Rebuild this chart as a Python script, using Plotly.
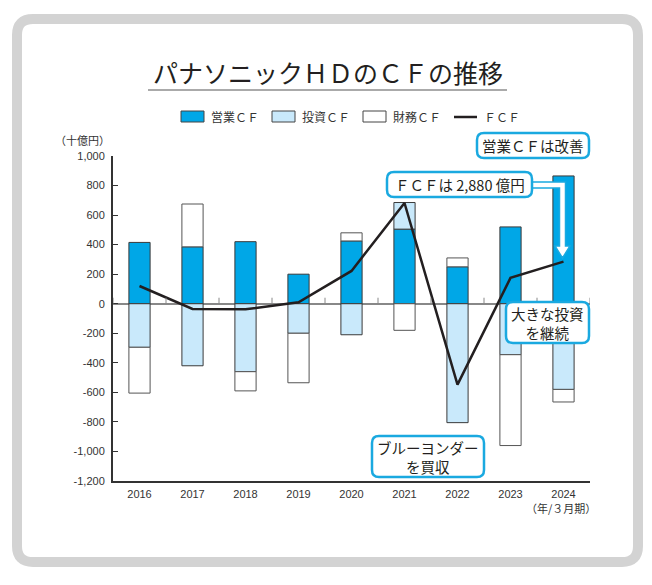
import plotly.graph_objects as go

years = ['2016', '2017', '2018', '2019', '2020', '2021', '2022', '2023', '2024']
op_cf = [415, 385, 420, 200, 425, 505, 250, 520, 865]       # 営業CF
inv_cf = [-295, -420, -460, -200, -210, 180, -805, -345, -580]  # 投資CF
fin_cf = [-310, 290, -130, -335, 55, -180, 60, -615, -85]    # 財務CF
fcf = [120, -35, -38, 10, 222, 682, -548, 175, 285]          # FCF

y_ticks = [-1200, -1000, -800, -600, -400, -200, 0, 200, 400, 600, 800, 1000]
y_ticktext = ['-1,200', '-1,000', '-800', '-600', '-400', '-200', '0',
              '200', '400', '600', '800', '1,000']

names = ['営業ＣＦ', '投資ＣＦ', '財務ＣＦ', 'ＦＣＦ']
colors = ['#00a7e7', '#c9e9fb', '#ffffff', '#231f20']

JP = 'Noto Sans CJK JP'
NUM = 'Liberation Sans'
CYAN = '#1aa9e0'

# page has an 8px body margin, so work in page pixels and shift
OFF = 8
W, H = 644, 577
ML, MR, MT, MB = 105, 62, 148, 104


def px(x):
    return (x - OFF - ML) / (W - ML - MR)


def py(y):
    return (H - MB - (y - OFF)) / (H - MT - MB)


def rrect(x0, y0, x1, y1, r):
    # rounded rect in page pixels -> path in paper units
    pts = [
        ('M', [(x0 + r, y0)]), ('L', [(x1 - r, y0)]), ('Q', [(x1, y0), (x1, y0 + r)]),
        ('L', [(x1, y1 - r)]), ('Q', [(x1, y1), (x1 - r, y1)]),
        ('L', [(x0 + r, y1)]), ('Q', [(x0, y1), (x0, y1 - r)]),
        ('L', [(x0, y0 + r)]), ('Q', [(x0, y0), (x0 + r, y0)]),
    ]
    s = ''
    for cmd, ps in pts:
        s += cmd + ' '.join('%.5f,%.5f' % (px(a), py(b)) for a, b in ps) + ' '
    return s + 'Z'


def poly(points):
    return 'M' + ' L'.join('%.5f,%.5f' % (px(a), py(b)) for a, b in points) + ' Z'


def label(text, x, y, size, xanchor='center', color='#333'):
    return dict(text=text, xref='paper', yref='paper', x=px(x), y=py(y), xanchor=xanchor,
                yanchor='middle', showarrow=False, align='center',
                font=dict(family=JP, size=size, color=color))


fig = go.Figure()
bar_line = dict(color='#3a3a3a', width=1)
fig.add_trace(go.Bar(x=years, y=op_cf, name=names[0], marker=dict(color=colors[0], line=bar_line), width=0.4))
fig.add_trace(go.Bar(x=years, y=inv_cf, name=names[1], marker=dict(color=colors[1], line=bar_line), width=0.4))
fig.add_trace(go.Bar(x=years, y=fin_cf, name=names[2], marker=dict(color=colors[2], line=dict(color='#555', width=1)), width=0.4))
fig.add_trace(go.Scatter(x=years, y=fcf, name=names[3], mode='lines', line=dict(color=colors[3], width=2.5)))

shapes = []
annotations = []

# outer frame
shapes.append(dict(type='path', xref='paper', yref='paper', path=rrect(17, 19, 638, 562, 16),
                   line=dict(color='#d3d3d3', width=10), fillcolor='rgba(0,0,0,0)', layer='below'))

# title
annotations.append(label('パナソニックＨＤのＣＦの推移', 328, 72, 25, color='#231f20'))
shapes.append(dict(type='line', xref='paper', yref='paper', x0=px(148), x1=px(507), y0=py(90), y1=py(90),
                   line=dict(color='#aaaaaa', width=2)))

# legend
leg_x = [181, 272, 363, 454]
for i, nm in enumerate(names):
    x0 = leg_x[i]
    if i < 3:
        shapes.append(dict(type='rect', xref='paper', yref='paper', x0=px(x0), x1=px(x0 + 23),
                           y0=py(111), y1=py(122), fillcolor=colors[i], line=dict(color='#444', width=1)))
    else:
        shapes.append(dict(type='line', xref='paper', yref='paper', x0=px(x0), x1=px(x0 + 23),
                           y0=py(117), y1=py(117), line=dict(color=colors[i], width=2.5)))
    annotations.append(label(nm, x0 + 28, 117, 12, xanchor='left'))

# zero line boundary ticks
for i in range(len(years) + 1):
    shapes.append(dict(type='line', xref='x', yref='y', ysizemode='pixel', yanchor=0,
                       x0=i - 0.5, x1=i - 0.5, y0=0, y1=6, line=dict(color='#888', width=1)))

# unit labels
annotations.append(label('（十億円）', 112, 140, 11, xanchor='right'))
annotations.append(label('（年/３月期）', 561, 508, 11))

# callouts
boxes = [
    ((477, 133, 589, 158), '営業ＣＦは改善'),
    ((387, 172, 532, 197), 'ＦＣＦは 2,880 億円'),
    ((506, 302, 589, 343), '大きな投資<br>を継続'),
    ((372, 436, 484, 477), 'ブルーヨンダー<br>を買収'),
]

# hollow arrow from FCF box to the 2024 FCF point
shapes.append(dict(type='path', xref='paper', yref='paper',
                   path=poly([(530, 182), (565.5, 182), (565.5, 246), (570, 246), (562.5, 258),
                              (555, 246), (559.5, 246), (559.5, 188), (530, 188)]),
                   fillcolor='white', line=dict(color=CYAN, width=1.5)))

for (x0, y0, x1, y1), txt in boxes:
    shapes.append(dict(type='path', xref='paper', yref='paper', path=rrect(x0, y0, x1, y1, 7),
                       fillcolor='white', line=dict(color=CYAN, width=2.5)))
    annotations.append(label(txt, (x0 + x1) / 2, (y0 + y1) / 2, 14.5, color='#231f20'))

# solid arrows
annotations.append(dict(text='', x=years[8], y=op_cf[8], xref='x', yref='y', ax=0, ay=-17,
                        showarrow=True, arrowhead=2, arrowsize=1.2, arrowwidth=2, arrowcolor=CYAN, standoff=1))
annotations.append(dict(text='', x=years[6], y=inv_cf[6], xref='x', yref='y', ax=0, ay=13,
                        showarrow=True, arrowhead=2, arrowsize=1.2, arrowwidth=2, arrowcolor=CYAN, standoff=1))

fig.update_layout(
    width=W, height=H,
    margin=dict(l=ML, r=MR, t=MT, b=MB),
    barmode='relative',
    showlegend=False,
    paper_bgcolor='white', plot_bgcolor='white',
    shapes=shapes, annotations=annotations,
    xaxis=dict(type='category', range=[-0.5, 8.5], showline=True, linecolor='#333', linewidth=2,
               ticks='', showgrid=False, tickfont=dict(family=NUM, size=11, color='#333'), ticklabelstandoff=2),
    yaxis=dict(range=[-1200, 1000], tickvals=y_ticks, ticktext=y_ticktext, showline=True, linecolor='#333',
               linewidth=2, ticks='inside', ticklen=5, tickcolor='#333', showgrid=False,
               zeroline=True, zerolinecolor='#888', zerolinewidth=1.5,
               tickfont=dict(family=NUM, size=11, color='#333'), ticklabelstandoff=4),
)

fig.write_html('out.html')
